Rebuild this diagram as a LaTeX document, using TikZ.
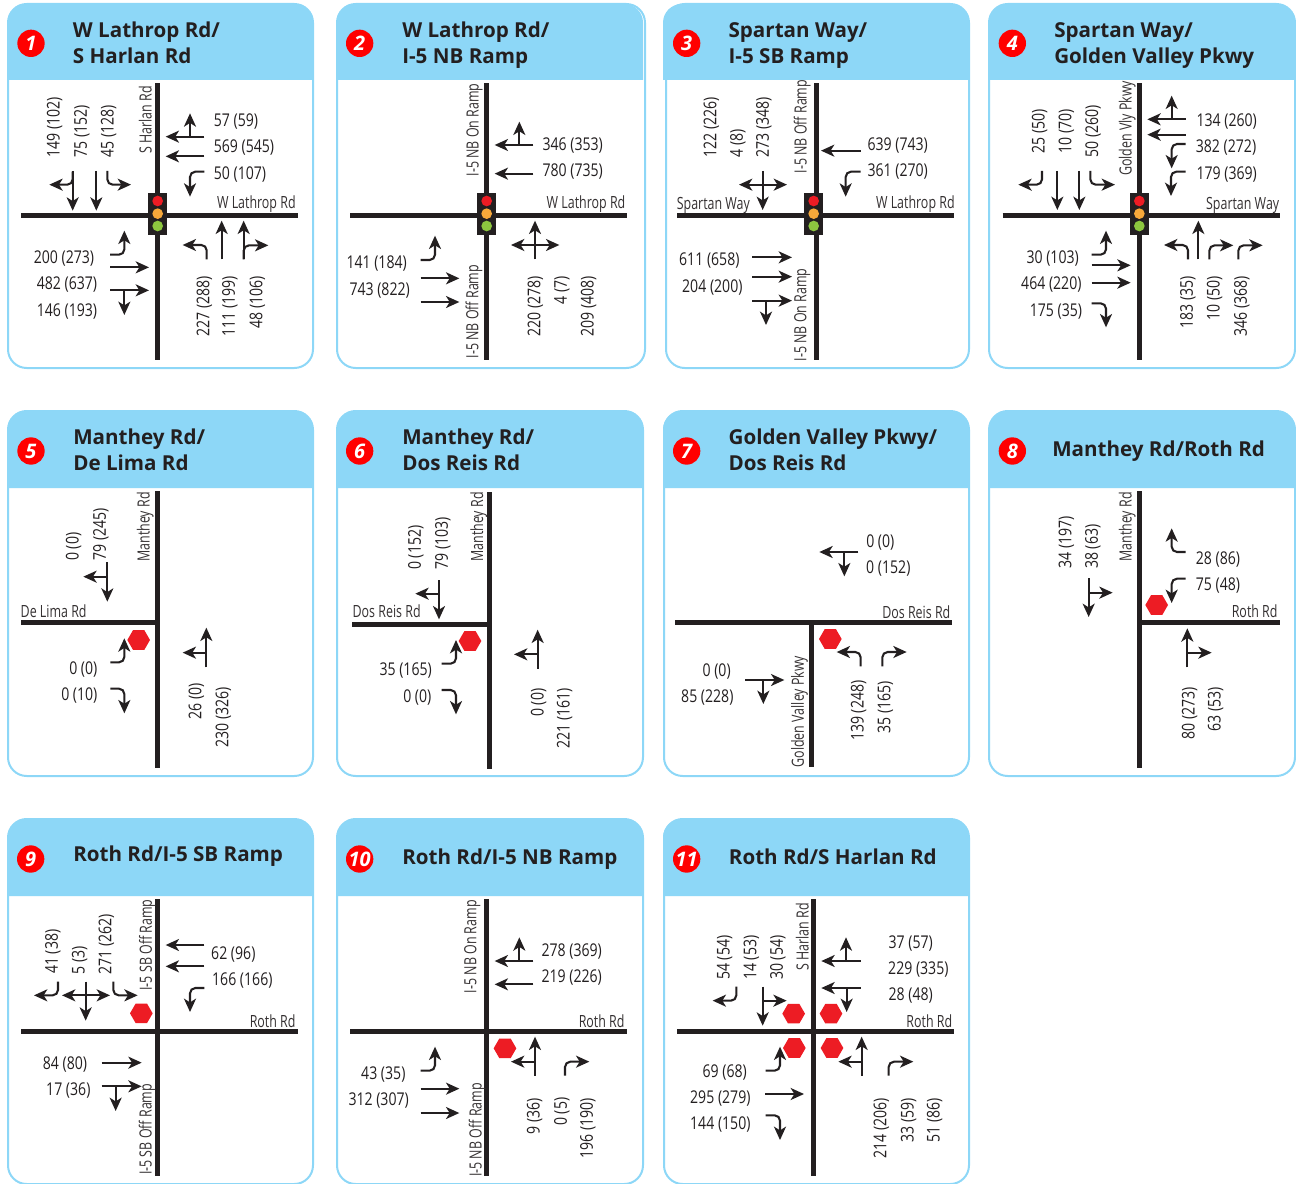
\documentclass[tikz,border=0pt]{standalone}
\usepackage{fontspec}
\usepackage{tikz}
\usetikzlibrary{arrows.meta,shapes.geometric}
\newfontfamily\countfont[FakeStretch=0.8]{Open Sans}
\newfontfamily\roadfont[FakeStretch=0.74]{Open Sans}
\newfontfamily\titlefont{Open Sans}
\definecolor{inkBlack}{RGB}{35,31,32}
\definecolor{panelBlue}{RGB}{141,215,247}
\definecolor{stopRed}{RGB}{237,28,36}
\definecolor{badgeRed}{RGB}{255,0,0}
\definecolor{lampOrange}{RGB}{247,168,58}
\definecolor{lampGreen}{RGB}{141,198,63}
\tikzset{
  panel edge/.style={draw=panelBlue,fill=white,line width=1.5pt,rounded corners=14pt},
  panel head/.style={fill=panelBlue},
  zoom grid/.style 2 args={shift={(#1,#2)},x=.25pt,y=-.25pt},
  road/.style={draw=inkBlack,line width=3.75pt},
  move/.style={-{Stealth[length=10pt,width=9pt,inset=2.8pt]},draw=inkBlack,line width=1.55pt},
  turn move/.style={move,rounded corners=4pt},
  count label/.style={inner sep=0pt,text=inkBlack,font=\countfont\fontsize{13.2}{15}\selectfont},
  road label/.style={inner sep=0pt,text=inkBlack!92,font=\roadfont\fontsize{12.6}{14}\selectfont},
  title label/.style={anchor=base west,inner sep=0pt,xshift=-.5pt,yshift=-.3pt,text=inkBlack,font=\titlefont\bfseries\fontsize{15.45}{19}\selectfont},
  badge/.style={circle,fill=badgeRed,inner sep=0pt,minimum size=20.5pt,text=white,font=\titlefont\bfseries\itshape\fontsize{15}{18}\selectfont},
  stop sign/.style={regular polygon,regular polygon sides=6,fill=stopRed,inner sep=0pt,minimum size=17pt},
  signal box/.style={fill=inkBlack},
  lamp/.style={circle,inner sep=0pt,minimum size=8pt}
}
\def\panelbox#1#2#3#4#5#6#7{%
  \draw[panel edge] (#1,#5) rectangle (#2,#7);
  \fill[panel head] (#3,#6) [rounded corners=14pt] -- (#3,#5) -- (#4,#5) [sharp corners] -- (#4,#6) -- cycle;
}
\def\thru(#1)(#2){\draw[move] (#1) -- (#2);}
\def\turn(#1)(#2)(#3){\draw[turn move] (#1) -- (#2) -- (#3);}
\def\hcnt(#1)#2{\node[count label] at ([yshift=-.6pt]#1) {#2};}
\def\vcnt(#1)#2{\node[count label,rotate=90] at ([xshift=1pt]#1) {#2};}
\def\hroad(#1)#2{\node[road label] at ([yshift=-.6pt]#1) {#2};}
\def\vroad(#1)#2{\node[road label,rotate=90] at ([xshift=.4pt]#1) {#2};}
\def\headline(#1)#2{\node[title label] at (#1) {#2};}
\def\stopsign(#1,#2){\node[stop sign] at (#1,#2) {};}
\def\signal#1#2{%
  \fill[signal box] (#1-29,#2-61) rectangle (#1+29,#2+64);
  \node[lamp,fill=stopRed] at (#1,#2-38) {};
  \node[lamp,fill=lampOrange] at (#1,#2) {};
  \node[lamp,fill=lampGreen] at (#1,#2+37) {};
}
\begin{document}
\begin{tikzpicture}[x=.75pt,y=-.75pt]
  \useasboundingbox (0,0) rectangle (1296,1184);
  % frames
  \panelbox{8}{313}{8}{313}{4}{80}{368}
  \panelbox{337}{645}{337}{643}{4}{80}{368}
  \panelbox{666}{969}{663}{969}{4}{80}{368}
  \panelbox{989}{1295}{989}{1295}{4}{80}{368}
  \panelbox{8}{313}{8}{313}{411}{488}{776}
  \panelbox{337}{643}{337}{643}{411}{488}{776}
  \panelbox{664}{969}{663}{969}{411}{488}{776}
  \panelbox{989}{1295}{989}{1295}{411}{488}{776}
  \panelbox{8}{313}{8}{313}{819}{896}{1184}
  \panelbox{337}{643}{337}{643}{819}{896}{1184}
  \panelbox{664}{969}{663}{969}{819}{896}{1184}

  % 1
  \begin{scope}[zoom grid={0}{0}]
    \node[badge] (badge1) at (93,130) {1};
    \headline(220,110){W Lathrop Rd/}
    \headline(220,188){S Harlan Rd}
    \draw[road] (63,646) -- (893,646);
    \draw[road] (473,250) -- (473,1080);
    \signal{473}{641}
    \vroad(434,360){S Harlan Rd}
    \hroad(769,611){W Lathrop Rd}
    \vcnt(160,381){149 (102)} \vcnt(242,394){75 (152)} \vcnt(322,394){45 (128)}
    \hcnt(708,362){57 (59)} \hcnt(732,440){569 (545)} \hcnt(720,520){50 (107)}
    \hcnt(192,772){200 (273)} \hcnt(201,851){482 (637)} \hcnt(201,931){146 (193)}
    \vcnt(609,919){227 (288)} \vcnt(686,919){111 (199)} \vcnt(768,907){48 (106)}
    \turn(218,515)(218,554)(148,554) \thru(218,513)(218,632) \thru(289,513)(289,632)
    \turn(322,513)(322,554)(393,554)
    \thru(613,410)(497,410) \thru(570,410)(570,340) \thru(613,469)(497,469)
    \turn(613,515)(570,515)(570,590)
    \turn(330,764)(373,764)(373,692) \thru(330,802)(447,802)
    \thru(330,871)(447,871) \thru(373,871)(373,945)
    \turn(620,778)(620,735)(548,735) \thru(665,778)(665,662) \thru(731,778)(731,662)
    \turn(731,778)(731,736)(805,736)
  \end{scope}

  % 2
  \begin{scope}[zoom grid={330}{0}]
    \node[badge] (badge2) at (89,130) {2};
    \headline(218,110){W Lathrop Rd/}
    \headline(218,188){I-5 NB Ramp}
    \draw[road] (60,646) -- (890,646);
    \draw[road] (470,250) -- (470,1080);
    \signal{470}{641}
    \vroad(432,390){I-5 NB On Ramp}
    \vroad(430,935){I-5 NB Off Ramp}
    \hroad(768,611){W Lathrop Rd}
    \hcnt(728,435){346 (353)} \hcnt(728,513){780 (735)}
    \hcnt(140,787){141 (184)} \hcnt(149,870){743 (822)}
    \vcnt(612,919){220 (278)} \vcnt(692,870){4 (7)} \vcnt(772,919){209 (408)}
    \thru(610,435)(494,435) \thru(568,435)(568,365) \thru(610,521)(494,521)
    \turn(272,780)(315,780)(315,707) \thru(272,835)(388,835) \thru(272,906)(388,906)
    \thru(615,778)(615,662) \thru(615,735)(543,735) \thru(615,735)(688,735)
  \end{scope}

  % 3
  \begin{scope}[zoom grid={660}{0}]
    \node[badge] (badge3) at (80,130) {3};
    \headline(207,110){Spartan Way/}
    \headline(207,188){I-5 SB Ramp}
    \draw[road] (51,646) -- (882,646);
    \draw[road] (470,250) -- (470,1080);
    \signal{461}{641}
    \vroad(425,380){I-5 NB Off Ramp}
    \vroad(425,945){I-5 NB On Ramp}
    \hroad(160,613){Spartan Way}
    \hroad(766,611){W Lathrop Rd}
    \vcnt(150,381){122 (226)} \vcnt(230,430){4 (8)} \vcnt(308,381){273 (348)}
    \hcnt(713,433){639 (743)} \hcnt(713,513){361 (270)}
    \hcnt(148,779){611 (658)} \hcnt(157,860){204 (200)}
    \thru(308,513)(308,630) \thru(308,554)(237,554) \thru(308,554)(381,554)
    \thru(602,452)(483,452) \turn(602,515)(557,515)(557,590)
    \thru(277,772)(396,772) \thru(277,830)(396,830) \thru(277,902)(396,902)
    \thru(318,902)(318,975)
  \end{scope}

  % 4
  \begin{scope}[zoom grid={980}{0}]
    \node[badge] (badge4) at (97,130) {4};
    \headline(224,110){Spartan Way/}
    \headline(224,188){Golden Valley Pkwy}
    \draw[road] (68,646) -- (900,646);
    \draw[road] (478,250) -- (478,1080);
    \signal{478}{641}
    \vroad(440,385){Golden Vly Pkwy}
    \hroad(788,613){Spartan Way}
    \vcnt(175,394){25 (50)} \vcnt(255,394){10 (70)} \vcnt(335,394){50 (260)}
    \hcnt(740,361){134 (260)} \hcnt(738,440){382 (272)} \hcnt(740,520){179 (369)}
    \hcnt(218,772){30 (103)} \hcnt(214,851){464 (220)} \hcnt(228,931){175 (35)}
    \vcnt(620,907){183 (35)} \vcnt(700,894){10 (50)} \vcnt(782,919){346 (368)}
    \turn(186,513)(186,554)(115,554) \thru(232,513)(232,630) \thru(298,513)(298,630)
    \turn(331,513)(331,554)(405,554)
    \thru(617,358)(502,358) \thru(575,358)(575,287) \thru(617,404)(502,404)
    \turn(617,432)(575,432)(575,505) \turn(617,515)(573,515)(573,588)
    \turn(335,764)(378,764)(378,692) \thru(335,796)(452,796) \thru(335,848)(452,848)
    \turn(335,910)(378,910)(378,982)
    \turn(624,778)(624,735)(552,735) \thru(655,778)(655,662)
    \turn(688,778)(688,736)(760,736) \turn(775,778)(775,736)(848,736)
  \end{scope}

  % 5
  \begin{scope}[zoom grid={0}{405}]
    \node[badge] (badge5) at (93,138) {5};
    \headline(221,118){Manthey Rd/}
    \headline(221,195){De Lima Rd}
    \draw[road] (63,652) -- (473,652);
    \draw[road] (473,258) -- (473,1088);
    \stopsign(416,705)
    \vroad(434,366){Manthey Rd}
    \hroad(161,616){De Lima Rd}
    \vcnt(217,425){0 (0)} \vcnt(299,388){79 (245)}
    \hcnt(250,791){0 (0)} \hcnt(238,869){0 (10)}
    \vcnt(585,890){26 (0)} \vcnt(666,936){230 (326)}
    \thru(322,472)(322,590) \thru(322,515)(250,515)
    \turn(331,772)(373,772)(373,700) \turn(331,851)(373,851)(373,925)
    \thru(619,787)(619,668) \thru(619,743)(548,743)
  \end{scope}

  % 6
  \begin{scope}[zoom grid={330}{405}]
    \node[badge] (badge6) at (89,138) {6};
    \headline(218,118){Manthey Rd/}
    \headline(218,195){Dos Reis Rd}
    \draw[road] (66,658) -- (478,658);
    \draw[road] (478,262) -- (478,1092);
    \stopsign(420,708)
    \vroad(445,366){Manthey Rd}
    \hroad(170,616){Dos Reis Rd}
    \vcnt(254,428){0 (152)} \vcnt(335,415){79 (103)}
    \hcnt(227,795){35 (165)} \hcnt(262,875){0 (0)}
    \vcnt(622,893){0 (0)} \vcnt(700,940){221 (161)}
    \thru(327,525)(327,643) \thru(327,566)(256,566)
    \turn(335,776)(378,776)(378,705) \turn(335,855)(378,855)(378,928)
    \thru(623,791)(623,674) \thru(623,748)(552,748)
  \end{scope}

  % 7
  \begin{scope}[zoom grid={660}{405}]
    \node[badge] (badge7) at (80,138) {7};
    \headline(207,118){Golden Valley Pkwy/}
    \headline(207,195){Dos Reis Rd}
    \draw[road] (45,652) -- (876,652);
    \draw[road] (454,652) -- (454,1085);
    \stopsign(511,702)
    \hroad(769,618){Dos Reis Rd}
    \vroad(417,920){Golden Valley Pkwy}
    \hcnt(661,410){0 (0)} \hcnt(685,489){0 (152)}
    \hcnt(170,798){0 (0)} \hcnt(142,875){85 (228)}
    \vcnt(592,917){139 (248)} \vcnt(672,907){35 (165)}
    \thru(595,441)(478,441) \thru(553,441)(553,514)
    \thru(256,825)(373,825) \thru(310,825)(310,897)
    \turn(602,784)(602,741)(530,741) \turn(667,784)(667,741)(740,741)
  \end{scope}

  % 8
  \begin{scope}[zoom grid={980}{405}]
    \node[badge] (badge8) at (97,138) {8};
    \headline(218,153){Manthey Rd/Roth Rd}
    \draw[road] (478,652) -- (900,652);
    \draw[road] (478,258) -- (478,1088);
    \stopsign(530,600)
    \vroad(440,366){Manthey Rd}
    \hroad(824,616){Roth Rd}
    \vcnt(255,412){34 (197)} \vcnt(335,425){38 (63)}
    \hcnt(714,460){28 (86)} \hcnt(714,538){75 (48)}
    \vcnt(625,925){80 (273)} \vcnt(703,912){63 (53)}
    \thru(326,520)(326,636) \thru(326,563)(398,563)
    \turn(617,441)(575,441)(575,370) \turn(617,521)(575,521)(575,594)
    \thru(622,787)(622,670) \thru(622,743)(695,743)
  \end{scope}

  % 9
  \begin{scope}[zoom grid={0}{810}]
    \node[badge] (badge9) at (92,147) {9};
    \headline(221,153){Roth Rd/I-5 SB Ramp}
    \draw[road] (63,664) -- (893,664);
    \draw[road] (473,268) -- (473,1097);
    \stopsign(424,610)
    \vroad(441,405){I-5 SB Off Ramp}
    \vroad(440,958){I-5 SB Off Ramp}
    \hroad(818,630){Roth Rd}
    \vcnt(155,425){41 (38)} \vcnt(235,450){5 (3)} \vcnt(315,402){271 (262)}
    \hcnt(700,430){62 (96)} \hcnt(727,508){166 (166)}
    \hcnt(195,762){84 (80)} \hcnt(205,840){17 (36)}
    \turn(174,515)(174,556)(102,556)
    \thru(257,515)(257,632) \thru(257,556)(186,556) \thru(257,556)(330,556)
    \turn(340,515)(340,556)(413,556)
    \thru(613,405)(497,405) \thru(613,469)(497,469) \turn(613,534)(570,534)(570,606)
    \thru(305,758)(425,758) \thru(305,829)(425,829) \thru(347,829)(347,903)
  \end{scope}

  % 10
  \begin{scope}[zoom grid={330}{810}]
    \node[badge] (badge10) at (89,147) {10};
    \headline(218,162){Roth Rd/I-5 NB Ramp}
    \draw[road] (60,664) -- (890,664);
    \draw[road] (470,268) -- (470,1097);
    \stopsign(525,715)
    \vroad(425,410){I-5 NB On Ramp}
    \vroad(440,960){I-5 NB Off Ramp}
    \hroad(815,630){Roth Rd}
    \hcnt(725,423){278 (369)} \hcnt(725,499){219 (226)}
    \hcnt(160,791){43 (35)} \hcnt(146,870){312 (307)}
    \vcnt(610,918){9 (36)} \vcnt(692,905){0 (5)} \vcnt(770,955){196 (190)}
    \thru(610,453)(494,453) \thru(568,453)(568,382) \thru(610,523)(494,523)
    \turn(272,782)(315,782)(315,710) \thru(272,836)(388,836) \thru(272,909)(388,909)
    \thru(615,797)(615,680) \thru(615,755)(543,755) \turn(705,797)(705,755)(778,755)
  \end{scope}

  % 11
  \begin{scope}[zoom grid={660}{810}]
    \node[badge] (badge11) at (80,147) {11};
    \headline(208,162){Roth Rd/S Harlan Rd}
    \draw[road] (51,664) -- (882,664);
    \draw[road] (461,268) -- (461,1097);
    \stopsign(401,611) \stopsign(513,611) \stopsign(403,714) \stopsign(516,714)
    \vroad(425,380){S Harlan Rd}
    \hroad(808,630){Roth Rd}
    \vcnt(190,443){54 (54)} \vcnt(270,443){14 (53)} \vcnt(350,443){30 (54)}
    \hcnt(752,398){37 (57)} \hcnt(775,477){229 (335)} \hcnt(752,553){28 (48)}
    \hcnt(194,785){69 (68)} \hcnt(181,862){295 (279)} \hcnt(181,942){144 (150)}
    \vcnt(660,955){214 (206)} \vcnt(742,930){33 (59)} \vcnt(820,930){51 (86)}
    \turn(229,530)(229,572)(158,572) \thru(308,530)(308,647) \thru(308,572)(380,572)
    \thru(602,453)(484,453) \thru(558,453)(558,382)
    \thru(602,534)(484,534) \thru(560,534)(560,606)
    \turn(317,782)(360,782)(360,710) \thru(315,852)(432,852) \turn(317,916)(360,916)(360,990)
    \thru(605,797)(605,680) \thru(605,755)(535,755) \turn(686,797)(686,755)(760,755)
  \end{scope}
\end{tikzpicture}
\end{document}
